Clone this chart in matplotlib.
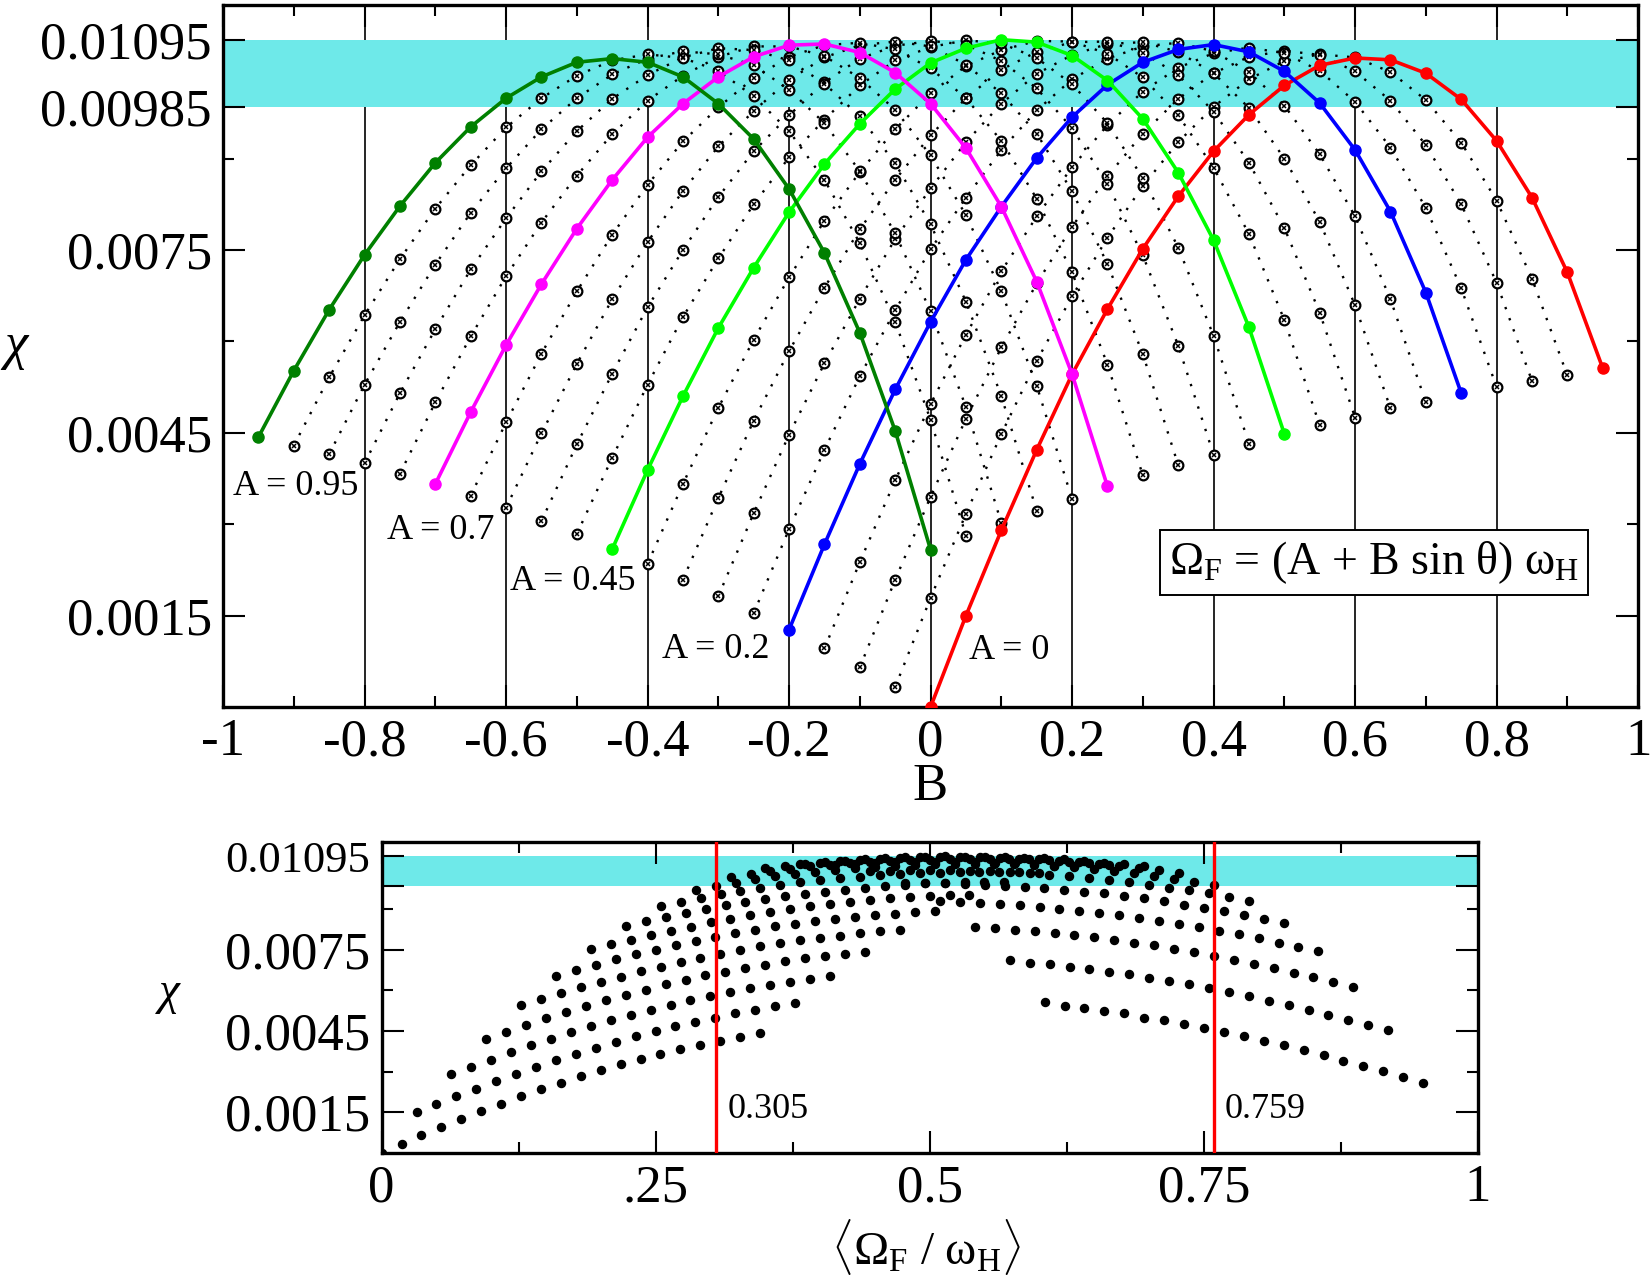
import numpy as np
import matplotlib
matplotlib.use("Agg")
import matplotlib.pyplot as plt

plt.rcParams["font.family"] = ["Liberation Serif", "DejaVu Serif"]
plt.rcParams["mathtext.fontset"] = "custom"
plt.rcParams["mathtext.rm"] = "Liberation Serif"
plt.rcParams["mathtext.it"] = "Liberation Serif:italic"

# ---- data ----------------------------------------------------------------
# every curve runs over A + B = 0, 0.05, ..., 0.95
a_plus_b = [0.00, 0.05, 0.10, 0.15, 0.20, 0.25, 0.30, 0.35, 0.40, 0.45,
            0.50, 0.55, 0.60, 0.65, 0.70, 0.75, 0.80, 0.85, 0.90, 0.95]
a_values = [0.00, 0.05, 0.10, 0.15, 0.20, 0.25, 0.30, 0.35, 0.40, 0.45,
            0.50, 0.55, 0.60, 0.65, 0.70, 0.75, 0.80, 0.85, 0.90, 0.95]

chi_a000 = [0.0, 0.00150, 0.00290, 0.00422, 0.00546, 0.00653, 0.00752, 0.00838, 0.00912, 0.00972,
            0.01020, 0.01053, 0.01065, 0.01062, 0.01040, 0.00997, 0.00929, 0.00836, 0.00713, 0.00556]
chi_a005 = [0.00033, 0.00179, 0.00317, 0.00448, 0.00568, 0.00674, 0.00770, 0.00855, 0.00927, 0.00985,
            0.01030, 0.01060, 0.01071, 0.01066, 0.01042, 0.00996, 0.00926, 0.00831, 0.00703, 0.00544]
chi_a010 = [0.00065, 0.00209, 0.00345, 0.00473, 0.00590, 0.00695, 0.00788, 0.00871, 0.00941, 0.00998,
            0.01040, 0.01067, 0.01077, 0.01070, 0.01043, 0.00995, 0.00922, 0.00825, 0.00696, 0.00535]
chi_a015 = [0.00096, 0.00238, 0.00372, 0.00497, 0.00611, 0.00715, 0.00805, 0.00886, 0.00955, 0.01010,
            0.01049, 0.01073, 0.01082, 0.01073, 0.01044, 0.00993, 0.00918, 0.00819, 0.00687, 0.00525]
chi_a020 = [0.00127, 0.00267, 0.00399, 0.00521, 0.00632, 0.00734, 0.00821, 0.00901, 0.00968, 0.01021,
            0.01058, 0.01079, 0.01087, 0.01075, 0.01043, 0.00991, 0.00914, 0.00813, 0.00680, 0.00515]
chi_a025 = [0.00154, 0.00292, 0.00422, 0.00543, 0.00651, 0.00751, 0.00836, 0.00914, 0.00979, 0.01030,
            0.01064, 0.01084, 0.01090, 0.01076, 0.01042, 0.00987, 0.00907, 0.00805, 0.00669, 0.00500]
chi_a030 = [0.00182, 0.00318, 0.00447, 0.00564, 0.00670, 0.00768, 0.00851, 0.00927, 0.00990, 0.01039,
            0.01070, 0.01088, 0.01091, 0.01075, 0.01040, 0.00983, 0.00900, 0.00796, 0.00659, 0.00490]
chi_a035 = [0.00209, 0.00343, 0.00470, 0.00584, 0.00688, 0.00784, 0.00865, 0.00938, 0.00999, 0.01046,
            0.01075, 0.01091, 0.01092, 0.01074, 0.01037, 0.00977, 0.00893, 0.00786, 0.00647, 0.00475]
chi_a040 = [0.00235, 0.00366, 0.00491, 0.00603, 0.00705, 0.00798, 0.00878, 0.00948, 0.01007, 0.01052,
            0.01078, 0.01093, 0.01092, 0.01072, 0.01033, 0.00971, 0.00885, 0.00776, 0.00635, 0.00462]
chi_a045 = [0.00259, 0.00389, 0.00510, 0.00622, 0.00721, 0.00812, 0.00891, 0.00957, 0.01014, 0.01057,
            0.01081, 0.01095, 0.01091, 0.01069, 0.01028, 0.00965, 0.00877, 0.00766, 0.00623, 0.00448]
chi_a050 = [0.00284, 0.00409, 0.00529, 0.00640, 0.00736, 0.00825, 0.00902, 0.00964, 0.01020, 0.01061,
            0.01083, 0.01094, 0.01089, 0.01065, 0.01022, 0.00958, 0.00868, 0.00754, 0.00609, 0.00432]
chi_a055 = [0.00305, 0.00431, 0.00547, 0.00656, 0.00750, 0.00837, 0.00912, 0.00971, 0.01025, 0.01064,
            0.01085, 0.01093, 0.01087, 0.01060, 0.01015, 0.00950, 0.00858, 0.00741, 0.00593, 0.00414]
chi_a060 = [0.00327, 0.00449, 0.00563, 0.00669, 0.00763, 0.00847, 0.00920, 0.00978, 0.01029, 0.01066,
            0.01086, 0.01092, 0.01084, 0.01054, 0.01007, 0.00941, 0.00846, 0.00727, 0.00579, 0.00397]
chi_a065 = [0.00347, 0.00467, 0.00580, 0.00682, 0.00775, 0.00857, 0.00928, 0.00984, 0.01032, 0.01067,
            0.01086, 0.01090, 0.01079, 0.01048, 0.00999, 0.00929, 0.00834, 0.00713, 0.00562, 0.00380]
chi_a070 = [0.00366, 0.00484, 0.00594, 0.00694, 0.00785, 0.00865, 0.00935, 0.00990, 0.01034, 0.01067,
            0.01086, 0.01088, 0.01074, 0.01041, 0.00990, 0.00917, 0.00821, 0.00698, 0.00546, 0.00362]
chi_a075 = [0.00383, 0.00500, 0.00608, 0.00707, 0.00795, 0.00872, 0.00940, 0.00995, 0.01036, 0.01067,
            0.01084, 0.01084, 0.01068, 0.01032, 0.00980, 0.00905, 0.00807, 0.00682, 0.00527, 0.00341]
chi_a080 = [0.00400, 0.00515, 0.00620, 0.00718, 0.00802, 0.00879, 0.00945, 0.00998, 0.01037, 0.01066,
            0.01081, 0.01078, 0.01061, 0.01023, 0.00969, 0.00892, 0.00792, 0.00665, 0.00510, 0.00322]
chi_a085 = [0.00415, 0.00529, 0.00632, 0.00726, 0.00811, 0.00884, 0.00948, 0.00999, 0.01038, 0.01064,
            0.01076, 0.01071, 0.01053, 0.01013, 0.00958, 0.00879, 0.00777, 0.00649, 0.00492, 0.00302]
chi_a090 = [0.00429, 0.00541, 0.00643, 0.00735, 0.00818, 0.00889, 0.00951, 0.00999, 0.01036, 0.01061,
            0.01071, 0.01065, 0.01044, 0.01002, 0.00945, 0.00865, 0.00761, 0.00632, 0.00471, 0.00281]
chi_a095 = [0.00443, 0.00552, 0.00652, 0.00742, 0.00822, 0.00893, 0.00952, 0.00999, 0.01034, 0.01058,
            0.01064, 0.01058, 0.01034, 0.00990, 0.00932, 0.00850, 0.00745, 0.00614, 0.00453, 0.00258]

chi_curves = [chi_a000, chi_a005, chi_a010, chi_a015, chi_a020, chi_a025, chi_a030,
              chi_a035, chi_a040, chi_a045, chi_a050, chi_a055, chi_a060, chi_a065,
              chi_a070, chi_a075, chi_a080, chi_a085, chi_a090, chi_a095]

band = [0.00985, 0.01095]          # 90 % .. 100 % of max chi
omega_bounds = [0.305, 0.759]      # <Omega_F/omega_H> where chi leaves the band

# ---- styles ---------------------------------------------------------------
highlight = {0: "#ff0000", 4: "#0000ff", 9: "#00ff00", 14: "#ff00ff", 19: "#008000"}
band_color = "#6ee9e9"
TICK = 38
mean_sin = 2 / np.pi               # <sin theta> over 0..pi

fig = plt.figure(figsize=(16.5, 12.75), dpi=100)
ax1 = fig.add_axes([0.1352, 0.4455, 0.8576, 0.5506])
ax2 = fig.add_axes([0.2313, 0.0957, 0.6644, 0.2439])

# ---- top panel: chi vs B -------------------------------------------------
ax1.axhspan(band[0], band[1], color=band_color, lw=0, zorder=1.5)
for xg in [-0.8, -0.6, -0.4, -0.2, 0.0, 0.2, 0.4, 0.6, 0.8]:
    ax1.axvline(xg, color="k", lw=1.2, zorder=1)

for i, (a, chi) in enumerate(zip(a_values, chi_curves)):
    b = np.array(a_plus_b) - a
    if i in highlight:
        continue
    ax1.plot(b, chi, color="k", lw=1.7, ls=(0, (1, 4)), zorder=3)
    ax1.plot(b, chi, "o", ms=7, mfc="white", mec="k", mew=1.6, zorder=3.1)
    ax1.plot(b, chi, "x", ms=3.2, mec="k", mew=1.1, zorder=3.2)

for i, c in highlight.items():
    b = np.array(a_plus_b) - a_values[i]
    ax1.plot(b, chi_curves[i], "-o", color=c, lw=2.6, ms=8, zorder=4)

label_pos = [(0.95, -0.986, 0.00348), (0.7, -0.769, 0.00275), (0.45, -0.595, 0.00192),
             (0.2, -0.379, 0.00080), (0, 0.0546, 0.00079)]
for a, x, y in label_pos:
    ax1.text(x, y, f"A = {a:g}", fontsize=26, ha="left", va="baseline", zorder=5)

ax1.text(0.6266, 0.00237, r"Ω$_{\mathrm{F}}$ = (A + B sin θ) ω$_{\mathrm{H}}$",
         fontsize=33, ha="center", va="center", zorder=6,
         bbox=dict(boxstyle="square,pad=0.2", fc="white", ec="k", lw=1.4))

ax1.set_xlim(-1, 1)
ax1.set_ylim(0, 0.01152)
ax1.set_xticks([-1, -0.8, -0.6, -0.4, -0.2, 0, 0.2, 0.4, 0.6, 0.8, 1])
ax1.set_xticklabels(["-1", "-0.8", "-0.6", "-0.4", "-0.2", "0", "0.2", "0.4", "0.6", "0.8", "1"])
ax1.set_xticks([-0.9, -0.7, -0.5, -0.3, -0.1, 0.1, 0.3, 0.5, 0.7, 0.9], minor=True)
ax1.set_yticks([0.0015, 0.0045, 0.0075, 0.00985, 0.01095])
ax1.set_yticklabels(["0.0015", "0.0045", "0.0075", "0.00985", "0.01095"])
ax1.set_yticks([0.003, 0.006, 0.009], minor=True)
fig.text(0.5636, 0.383, "B", fontsize=TICK, ha="center", va="center")
fig.text(0.009, 0.727, r"$\chi$", fontsize=TICK, ha="center", va="center")

# ---- bottom panel: chi vs <Omega_F / omega_H> ------------------------------
ax2.axhspan(band[0], band[1], color=band_color, lw=0, zorder=1)
for a, chi in zip(a_values, chi_curves):
    b = np.array(a_plus_b) - a
    ax2.plot(a + b * mean_sin, chi, "o", color="k", ms=5.8, ls="none", zorder=3)
for xb in omega_bounds:
    ax2.axvline(xb, color="#ff0000", lw=2.4, zorder=4)
ax2.text(0.3153, 0.0013, "0.305", fontsize=26, ha="left", va="baseline")
ax2.text(0.7694, 0.0013, "0.759", fontsize=26, ha="left", va="baseline")

ax2.set_xlim(0, 1)
ax2.set_ylim(0, 0.01148)
ax2.set_xticks([0, 0.25, 0.5, 0.75, 1])
ax2.set_xticklabels(["0", ".25", "0.5", "0.75", "1"])
ax2.set_xticks([0.125, 0.375, 0.625, 0.875], minor=True)
ax2.set_yticks([0.0015, 0.0045, 0.0075, 0.00985, 0.01095])
ax2.set_yticklabels(["0.0015", "0.0045", "0.0075", "", "0.01095"])
ax2.set_yticks([0.003, 0.006, 0.009], minor=True)
fig.text(0.561, 0.022, r"$\langle$Ω$_{\mathrm{F}}$ / ω$_{\mathrm{H}}\rangle$",
         fontsize=34, ha="center", va="center")
fig.text(0.102, 0.22, r"$\chi$", fontsize=34, ha="center", va="center")

for ax in (ax1, ax2):
    for s in ax.spines.values():
        s.set_linewidth(2.4)
    ax.tick_params(which="both", direction="in", top=True, right=True, width=1.5,
                   labelsize=TICK, pad=8)
    ax.tick_params(which="major", length=16)
    ax.tick_params(which="minor", length=8)
ax2.get_yticklabels()[-1].set_fontsize(32)

fig.savefig("out.png", dpi=100)
